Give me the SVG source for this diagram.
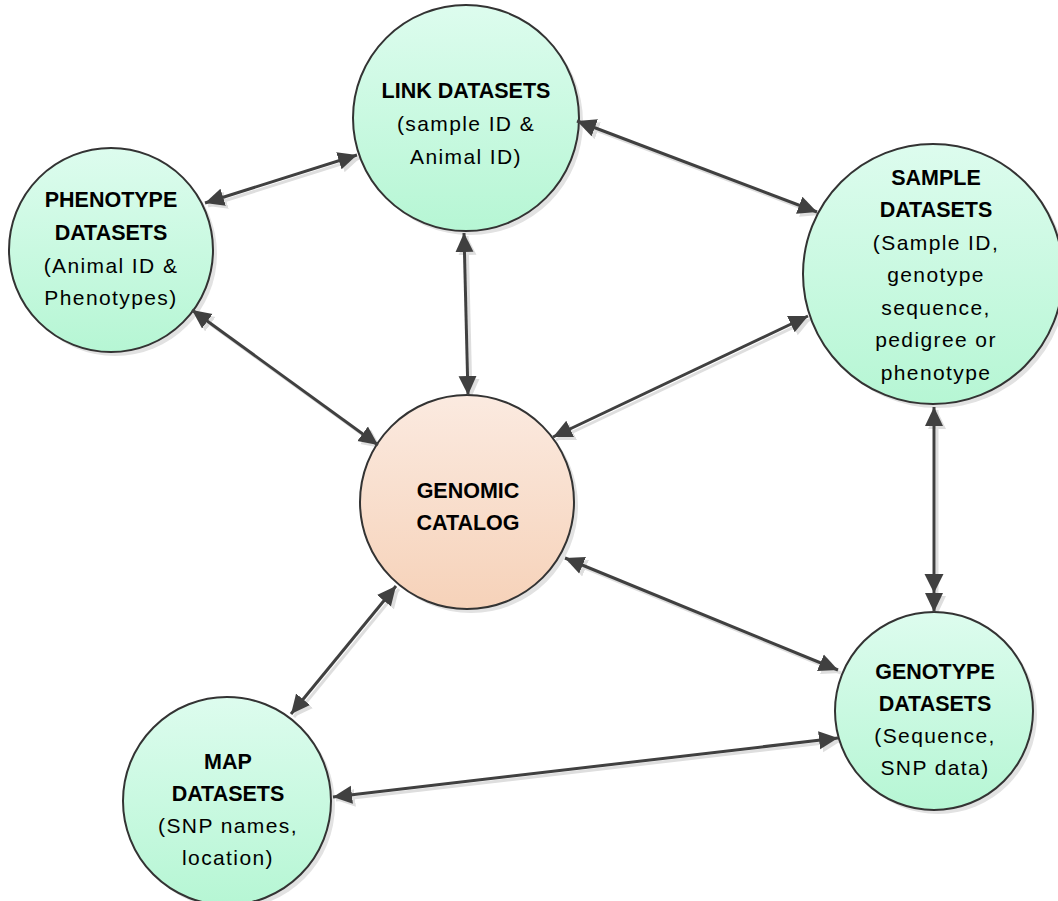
<svg xmlns="http://www.w3.org/2000/svg" width="1058" height="901" viewBox="0 0 1058 901">
<defs>
<linearGradient id="gGreen" x1="0" y1="0" x2="0" y2="1">
<stop offset="0" stop-color="#ddfcee"/>
<stop offset="1" stop-color="#b6f6d4"/>
</linearGradient>
<linearGradient id="gPeach" x1="0" y1="0" x2="0" y2="1">
<stop offset="0" stop-color="#fbeae0"/>
<stop offset="1" stop-color="#f6d2b9"/>
</linearGradient>
<marker id="ah" markerUnits="userSpaceOnUse" markerWidth="20" markerHeight="20" refX="19" refY="9" orient="auto-start-reverse" viewBox="0 0 20 18">
<path d="M0,0 L19,9 L0,18 z" fill="#404040"/>
</marker>
<marker id="ahs" markerUnits="userSpaceOnUse" markerWidth="20" markerHeight="20" refX="19" refY="9" orient="auto-start-reverse" viewBox="0 0 20 18">
<path d="M0,0 L19,9 L0,18 z" fill="#dedede"/>
</marker>
</defs>
<style>
.node{stroke:#333;stroke-width:2}
.sh{fill:#e2e2e2}
.t{font-family:"Liberation Sans",Arial,sans-serif;font-size:21px;fill:#000;text-anchor:middle}
.b{font-weight:bold;font-size:21.5px}
.r{letter-spacing:1.4px}
.ln{stroke:#404040;stroke-width:3;fill:none;marker-start:url(#ah);marker-end:url(#ah)}
.lns{stroke:#dedede;stroke-width:3;fill:none;marker-start:url(#ahs);marker-end:url(#ahs)}
</style>
<rect width="1058" height="901" fill="#fff"/>
<g id="shadows" transform="translate(4,4)">
<circle class="sh" cx="466" cy="118" r="113"/>
<circle class="sh" cx="111" cy="250" r="102"/>
<circle class="sh" cx="933" cy="274" r="130"/>
<circle class="sh" cx="467" cy="502" r="107"/>
<circle class="sh" cx="934" cy="711" r="99"/>
<circle class="sh" cx="227" cy="801" r="104"/>
</g>
<g id="connector-shadows" transform="translate(3,3)">
<line class="lns" x1="205" y1="203" x2="357" y2="155"/>
<line class="lns" x1="577" y1="121" x2="817" y2="212"/>
<line class="lns" x1="464" y1="233" x2="468" y2="395"/>
<line class="lns" x1="192" y1="310" x2="378" y2="445"/>
<line class="lns" x1="808" y1="316" x2="553" y2="437"/>
<line class="lns" x1="934" y1="407" x2="934" y2="612"/>
<line class="lns" x1="565" y1="558" x2="838" y2="670"/>
<line class="lns" x1="396" y1="586" x2="291" y2="714"/>
<line class="lns" x1="333" y1="797" x2="838" y2="738"/>
</g>
<g id="link-datasets">
<circle class="node" cx="466" cy="118" r="113" fill="url(#gGreen)"/>
<text class="t b" x="466" y="98">LINK DATASETS</text>
<text class="t r" x="466" y="131">(sample ID &amp;</text>
<text class="t r" x="466" y="164">Animal ID)</text>
</g>
<g id="phenotype-datasets">
<circle class="node" cx="111" cy="250" r="102" fill="url(#gGreen)"/>
<text class="t b" x="111" y="207">PHENOTYPE</text>
<text class="t b" x="111" y="240">DATASETS</text>
<text class="t r" x="111" y="273">(Animal ID &amp;</text>
<text class="t r" x="111" y="305">Phenotypes)</text>
</g>
<g id="sample-datasets">
<circle class="node" cx="933" cy="274" r="130" fill="url(#gGreen)"/>
<text class="t b" x="936" y="185">SAMPLE</text>
<text class="t b" x="936" y="217">DATASETS</text>
<text class="t r" x="936" y="250">(Sample ID,</text>
<text class="t r" x="936" y="282">genotype</text>
<text class="t r" x="936" y="315">sequence,</text>
<text class="t r" x="936" y="347">pedigree or</text>
<text class="t r" x="936" y="380">phenotype</text>
</g>
<g id="genomic-catalog">
<circle class="node" cx="467" cy="502" r="107" fill="url(#gPeach)"/>
<text class="t b" x="468" y="498">GENOMIC</text>
<text class="t b" x="468" y="530">CATALOG</text>
</g>
<g id="genotype-datasets">
<circle class="node" cx="934" cy="711" r="99" fill="url(#gGreen)"/>
<text class="t b" x="935" y="679">GENOTYPE</text>
<text class="t b" x="935" y="711">DATASETS</text>
<text class="t r" x="935" y="743">(Sequence,</text>
<text class="t r" x="935" y="775">SNP data)</text>
</g>
<g id="map-datasets">
<circle class="node" cx="227" cy="801" r="104" fill="url(#gGreen)"/>
<text class="t b" x="228" y="769">MAP</text>
<text class="t b" x="228" y="801">DATASETS</text>
<text class="t r" x="228" y="833">(SNP names,</text>
<text class="t r" x="228" y="865">location)</text>
</g>
<g id="connectors">
<line class="ln" x1="205" y1="203" x2="357" y2="155"/>
<line class="ln" x1="577" y1="121" x2="817" y2="212"/>
<line class="ln" x1="464" y1="233" x2="468" y2="395"/>
<line class="ln" x1="192" y1="310" x2="378" y2="445"/>
<line class="ln" x1="808" y1="316" x2="553" y2="437"/>
<line class="ln" x1="934" y1="407" x2="934" y2="612"/>
<path d="M924.5,574 L943.5,574 L934,593 z" fill="#404040"/>
<line class="ln" x1="565" y1="558" x2="838" y2="670"/>
<line class="ln" x1="396" y1="586" x2="291" y2="714"/>
<line class="ln" x1="333" y1="797" x2="838" y2="738"/>
</g>
</svg>
